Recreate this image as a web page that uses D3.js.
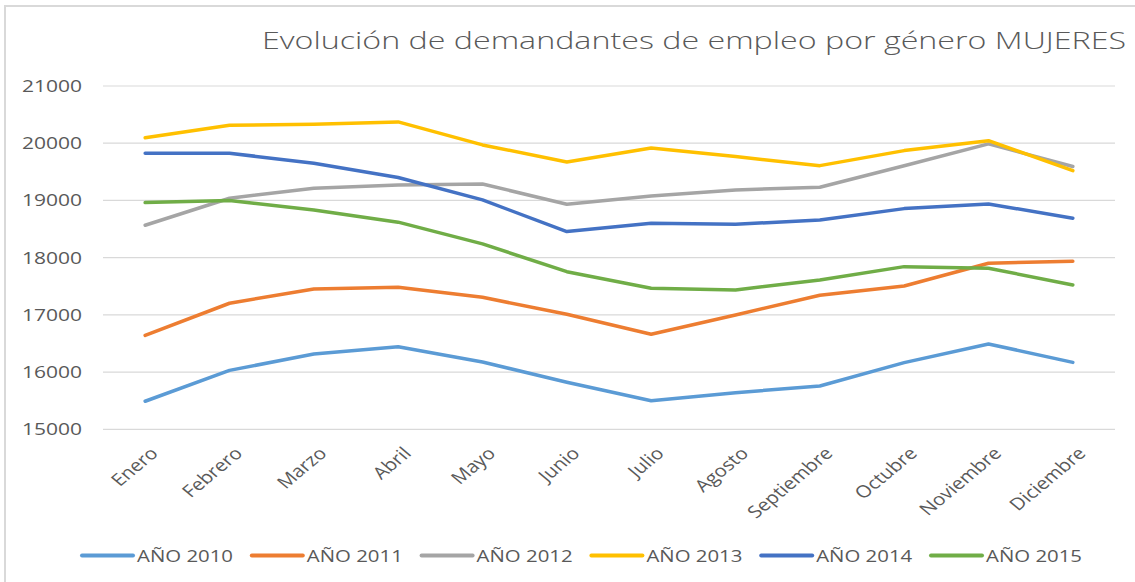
<!DOCTYPE html>
<html>
<head>
<meta charset="utf-8">
<script src="https://cdn.jsdelivr.net/npm/d3@7"></script>
<style>
  body { margin: 0; background: #fff; }
  text { font-family: "Open Sans", "Noto Sans", sans-serif; fill: #595959; }
</style>
</head>
<body>
<script>
// Evolucion de demandantes de empleo por genero - MUJERES
var months = ["Enero", "Febrero", "Marzo", "Abril", "Mayo", "Junio", "Julio",
    "Agosto", "Septiembre", "Octubre", "Noviembre", "Diciembre"];
var years = ["AÑO 2010", "AÑO 2011", "AÑO 2012", "AÑO 2013", "AÑO 2014",
    "AÑO 2015"];
var colors = ["#5B9BD5", "#ED7D31", "#A5A5A5", "#FFC000", "#4472C4",
    "#70AD47"];
var yTicks = [15000, 16000, 17000, 18000, 19000, 20000, 21000];

var v2010 = [15490, 16030, 16316, 16444, 16176, 15822, 15500, 15640, 15757,
    16165, 16491, 16170];
var v2011 = [16640, 17203, 17453, 17482, 17307, 17010, 16661, 16998, 17343,
    17505, 17902, 17937];
var v2012 = [18566, 19038, 19213, 19271, 19288, 18934, 19079, 19184, 19230,
    19605, 19988, 19593];
var v2013 = [20094, 20315, 20332, 20372, 19970, 19673, 19918, 19766, 19608,
    19871, 20045, 19521];
var v2014 = [19825, 19825, 19650, 19400, 19009, 18455, 18601, 18584, 18659,
    18857, 18939, 18689];
var v2015 = [18962, 18997, 18834, 18620, 18240, 17755, 17465, 17435, 17610,
    17843, 17815, 17523];
var series = [v2010, v2011, v2012, v2013, v2014, v2015];

var width = 1135, height = 582;
var plot = {left: 103, right: 1115, top: 86, bottom: 429.3};

var svg = d3.select("body")
  .append("svg")
  .attr("width", width)
  .attr("height", height);

// chart frame
svg.append("rect")
  .attr("x", 5).attr("y", 6)
  .attr("width", width + 20).attr("height", height + 20)
  .attr("fill", "none")
  .attr("stroke", "#D9D9D9")
  .attr("stroke-width", 2);

var x = d3.scalePoint()
  .domain(months)
  .range([plot.left, plot.right])
  .padding(0.5);

var y = d3.scaleLinear()
  .domain([15000, 21000])
  .range([plot.bottom, plot.top]);

// gridlines
svg.append("g")
  .selectAll("line")
  .data(yTicks)
  .enter()
  .append("line")
  .attr("x1", plot.left).attr("x2", plot.right)
  .attr("y1", function(d) { return y(d); })
  .attr("y2", function(d) { return y(d); })
  .attr("stroke", "#D9D9D9")
  .attr("stroke-width", 1.2);

// y axis labels
svg.append("g")
  .selectAll("text")
  .data(yTicks)
  .enter()
  .append("text")
  .attr("x", 82)
  .attr("y", function(d) { return y(d) + 6; })
  .attr("text-anchor", "end")
  .attr("font-size", 16)
  .attr("textLength", 60)
  .attr("lengthAdjust", "spacingAndGlyphs")
  .text(function(d) { return d; });

// x axis labels (rotated, stretched like the source image)
svg.append("g")
  .selectAll("text")
  .data(months)
  .enter()
  .append("text")
  .attr("transform", function(d) {
      return "translate(" + (x(d) + 4) + ",446) scale(1.2,1) rotate(-45)";
  })
  .attr("text-anchor", "end")
  .attr("dy", "0.7em")
  .attr("font-size", 17)
  .text(function(d) { return d; });

// lines
var line = d3.line()
  .x(function(d, i) { return x(months[i]); })
  .y(function(d) { return y(d); });

svg.append("g")
  .selectAll("path")
  .data(series)
  .enter()
  .append("path")
  .attr("d", line)
  .attr("fill", "none")
  .attr("stroke", function(d, i) { return colors[i]; })
  .attr("stroke-width", 3.5)
  .attr("stroke-linejoin", "round")
  .attr("stroke-linecap", "round");

// title
svg.append("text")
  .attr("x", 1126)
  .attr("y", 49)
  .attr("text-anchor", "end")
  .attr("font-size", 24)
  .attr("font-weight", 300)
  .attr("textLength", 864)
  .attr("lengthAdjust", "spacingAndGlyphs")
  .text("Evolución de demandantes de empleo por género MUJERES");

// legend
var legend = svg.append("g")
  .selectAll("g")
  .data(years)
  .enter()
  .append("g")
  .attr("transform", function(d, i) {
      return "translate(" + (82 + i * 169.8) + ",555.5)";
  });

legend.append("line")
  .attr("x1", 0).attr("x2", 51)
  .attr("stroke", function(d, i) { return colors[i]; })
  .attr("stroke-width", 4)
  .attr("stroke-linecap", "round");

legend.append("text")
  .attr("x", 55)
  .attr("y", 6)
  .attr("font-size", 17)
  .attr("textLength", 96)
  .attr("lengthAdjust", "spacingAndGlyphs")
  .text(function(d) { return d; });
</script>
</body>
</html>
